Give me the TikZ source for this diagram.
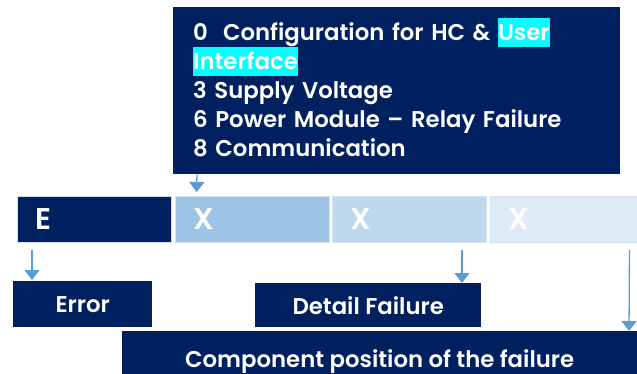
\documentclass[tikz,border=0pt]{standalone}
\usepackage{fontspec}
\setmainfont{Poppins}[BoldFont={Poppins SemiBold}]
\usepackage{xcolor}
\usetikzlibrary{arrows.meta,positioning}

\definecolor{navy}{HTML}{002060}
\definecolor{cellA}{HTML}{9DC3E6}
\definecolor{cellB}{HTML}{BDD7EE}
\definecolor{cellC}{HTML}{DEEBF7}
\definecolor{cellrim}{HTML}{D5E1EF}
\definecolor{arrblue}{HTML}{5B9BD5}
\definecolor{hlcyan}{HTML}{00FFFF}
\newcommand{\hlt}[1]{{\setlength{\fboxsep}{0pt}\colorbox{hlcyan}{\rule[-7pt]{0pt}{29pt}#1}}}

\begin{document}
\begin{tikzpicture}[
  x=1pt, y=-1pt,
  infobox/.style = {fill=navy, text=white, anchor=north west, inner xsep=20pt,
                    inner ysep=0pt, text width=407pt, minimum height=167pt,
                    align=left, font=\fontsize{22.8}{29}\selectfont\bfseries},
  cell/.style    = {draw=cellrim, line width=1pt, minimum height=46pt,
                    inner xsep=18pt, inner ysep=0pt, text width=118pt, align=left,
                    text=white, font=\fontsize{30}{30}\selectfont\bfseries},
  tag/.style     = {fill=navy, text=white, anchor=north west, inner sep=0pt,
                    font=\fontsize{22.8}{23}\selectfont\bfseries},
  arr/.style     = {-{Triangle[length=10pt,width=15pt]}, arrblue, line width=1.3pt}
]
\useasboundingbox (0,0) rectangle (637,374);
\clip (0,0) rectangle (637,374);
%% Code fields
\node[cell,fill=navy,anchor=north west] at (17,196) (cE) {E};
\node[cell,fill=cellA,right=2.5pt of cE]  (cX1) {X};
\node[cell,fill=cellB,right=2.5pt of cX1] (cX2) {X};
\node[cell,fill=cellC,right=2.5pt of cX2] (cX3) {X};
%% Meaning of the fields
\node[infobox] at (173,7) (info)
  {0\ \ Configuration for HC \& \hlt{User}\\
   \hlt{Interface}\\
   3 Supply Voltage\\
   6 Power Module -- Relay Failure\\
   8 Communication\rule[-7pt]{0pt}{0pt}};
\node[tag,minimum width=139pt,minimum height=46pt] at (13,281) (err) {Error};
\node[tag,minimum width=226pt,minimum height=44pt] at (255,283) (det) {Detail Failure};
\node[tag,minimum width=515pt,minimum height=60pt] at (122,331) (comp)
  {Component position of the failure};
%% Pointers
\draw[arr,shorten >=1pt] ([xshift=24pt]info.south west) -- ([xshift=22pt,yshift=3pt]cX1.north west);
\draw[arr] ([xshift=15pt,yshift=-7pt]cE.south west) -- ([xshift=19pt,yshift=1pt]err.north west);
\draw[arr] ([xshift=130pt,yshift=-7pt]cX2.south west) -- ([xshift=207pt]det.north west);
\draw[arr] ([xshift=140pt,yshift=-7pt]cX3.south west) -- ([xshift=507pt]comp.north west);
\end{tikzpicture}
\end{document}
